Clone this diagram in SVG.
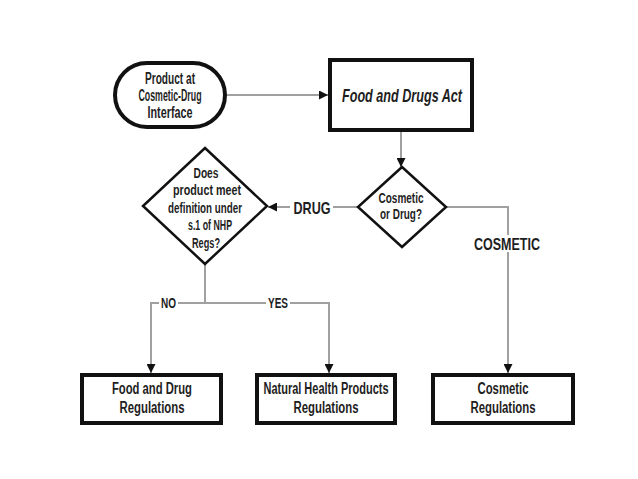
<svg xmlns="http://www.w3.org/2000/svg" width="638" height="479" viewBox="0 0 638 479">
<defs>
<marker id="arr" viewBox="0 0 10 10" refX="10" refY="5" markerWidth="9" markerHeight="9" markerUnits="userSpaceOnUse" orient="auto">
<path d="M0,0 L10,5 L0,10 z" fill="#111"/>
</marker>
<style>
.t{font-family:"Liberation Sans",Arial,sans-serif;font-weight:bold;fill:#1e1e1e;text-anchor:middle;}
.s{font-size:16px;}
.d{font-size:14.5px;}
.box{fill:#fff;stroke:#111;stroke-width:4;}
.dia{fill:#fff;stroke:#111;stroke-width:2.5;}
.c{fill:none;stroke:#a0a0a0;stroke-width:2;}
</style>
</defs>
<rect width="638" height="479" fill="#fff"/>
<g id="connectors">
<path class="c" d="M227,95 H328" marker-end="url(#arr)"/>
<path class="c" d="M401,132 V167" marker-end="url(#arr)"/>
<path class="c" d="M357,207 H268" marker-end="url(#arr)"/>
<path class="c" d="M447,207 H508 V373" marker-end="url(#arr)"/>
<path class="c" d="M205,263 V303"/>
<path class="c" d="M205,303 H151 V373" marker-end="url(#arr)"/>
<path class="c" d="M205,303 H329 V373" marker-end="url(#arr)"/>
<rect x="290" y="199" width="43" height="17" fill="#fff"/>
<text class="t" font-size="17" x="312" y="214" textLength="37" lengthAdjust="spacingAndGlyphs">DRUG</text>
<rect x="472" y="235" width="70" height="17" fill="#fff"/>
<text class="t" font-size="17" x="507" y="250" textLength="66" lengthAdjust="spacingAndGlyphs">COSMETIC</text>
<rect x="159" y="296" width="19" height="14" fill="#fff"/>
<text class="t" font-size="14" x="168.5" y="308" textLength="15" lengthAdjust="spacingAndGlyphs">NO</text>
<rect x="266" y="296" width="24" height="14" fill="#fff"/>
<text class="t" font-size="14" x="278" y="308" textLength="20" lengthAdjust="spacingAndGlyphs">YES</text>
</g>
<g id="start">
<rect class="box" x="115" y="63" width="110" height="64" rx="32" ry="32" stroke-width="3.5"/>
<text class="t s" x="170" y="84" textLength="50" lengthAdjust="spacingAndGlyphs">Product at</text>
<text class="t s" x="170" y="101" textLength="63" lengthAdjust="spacingAndGlyphs">Cosmetic-Drug</text>
<text class="t s" x="170" y="118" textLength="45" lengthAdjust="spacingAndGlyphs">Interface</text>
</g>
<g id="fda">
<rect class="box" x="330" y="60" width="142" height="70"/>
<text class="t" x="402" y="102" font-size="19" font-style="italic" textLength="120" lengthAdjust="spacingAndGlyphs">Food and Drugs Act</text>
</g>
<g id="cosmeticOrDrug">
<polygon class="dia" points="402,167 446,207 402,247 358,207"/>
<text class="t d" x="401" y="203" textLength="45" lengthAdjust="spacingAndGlyphs">Cosmetic</text>
<text class="t d" x="401" y="219" textLength="42" lengthAdjust="spacingAndGlyphs">or Drug?</text>
</g>
<g id="nhpDef">
<polygon class="dia" points="205,148 267,206 205,264 143,206"/>
<text class="t d" x="206" y="178" textLength="25" lengthAdjust="spacingAndGlyphs">Does</text>
<text class="t d" x="207" y="195" textLength="68" lengthAdjust="spacingAndGlyphs">product meet</text>
<text class="t d" x="205" y="213" textLength="74" lengthAdjust="spacingAndGlyphs">definition under</text>
<text class="t d" x="210" y="230" textLength="44" lengthAdjust="spacingAndGlyphs">s.1 of NHP</text>
<text class="t d" x="206" y="248" textLength="28" lengthAdjust="spacingAndGlyphs">Regs?</text>
</g>
<g id="fdr">
<rect class="box" x="82" y="375" width="139" height="48"/>
<text class="t s" x="152" y="394" textLength="80" lengthAdjust="spacingAndGlyphs">Food and Drug</text>
<text class="t s" x="152" y="413" textLength="65" lengthAdjust="spacingAndGlyphs">Regulations</text>
</g>
<g id="nhpr">
<rect class="box" x="257" y="375" width="138" height="48"/>
<text class="t s" x="326" y="394" textLength="125" lengthAdjust="spacingAndGlyphs">Natural Health Products</text>
<text class="t s" x="326" y="413" textLength="65" lengthAdjust="spacingAndGlyphs">Regulations</text>
</g>
<g id="cosr">
<rect class="box" x="433" y="375" width="140" height="48"/>
<text class="t s" x="503" y="394" textLength="51" lengthAdjust="spacingAndGlyphs">Cosmetic</text>
<text class="t s" x="503" y="413" textLength="65" lengthAdjust="spacingAndGlyphs">Regulations</text>
</g>
</svg>
